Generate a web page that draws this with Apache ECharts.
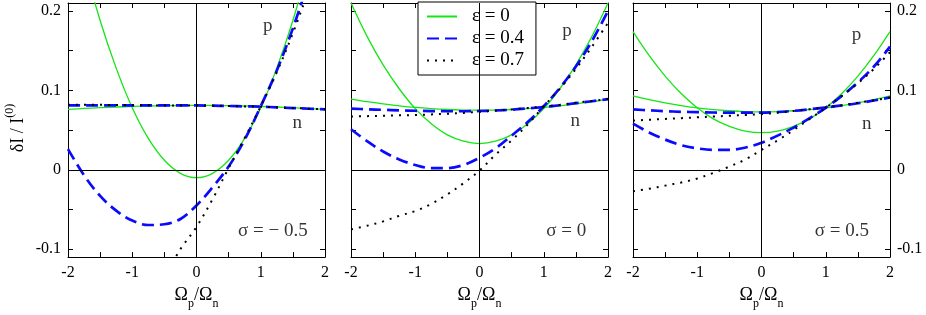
<!DOCTYPE html>
<html>
<head>
<meta charset="utf-8">
<script src="https://cdn.jsdelivr.net/npm/echarts@6/dist/echarts.min.js"></script>
<style>
html,body{margin:0;padding:0;background:#fff;}
#chart{width:926px;height:315px;}
</style>
</head>
<body>
<div id="chart"></div>
<script>
// Shared x samples (Ω_p/Ω_n)
const xs = [-2,-1.75,-1.5,-1.25,-1,-0.75,-0.5,-0.25,0,0.25,0.5,0.75,1,1.25,1.5,1.75,2];

// Legend / series names
const epsNames = ['ε = 0','ε = 0.4','ε = 0.7'];

// Panel 1: σ = −0.5
const s1_e0_p = [0.342,0.26,0.188,0.128,0.078,0.0395,0.012,-0.0045,-0.01,-0.0045,0.012,0.0395,0.078,0.128,0.188,0.26,0.342];
const s1_e0_n = [0.076,0.0772,0.0782,0.079,0.0797,0.0803,0.0807,0.0809,0.081,0.0809,0.0807,0.0803,0.0797,0.079,0.0782,0.0772,0.076];
const s1_e4_p = [0.026,-0.007,-0.033,-0.0515,-0.064,-0.0696,-0.0686,-0.062,-0.045,-0.022,0.004,0.038,0.08,0.125,0.178,0.24,0.31];
const s1_e4_n = [0.081,0.081,0.081,0.081,0.081,0.081,0.081,0.081,0.081,0.0807,0.0803,0.0798,0.0795,0.0785,0.0777,0.0768,0.076];
const s1_e7_p = [null,null,null,null,null,null,-0.135,-0.1,-0.072,-0.037,0.002,0.04,0.08,0.123,0.172,0.228,0.29];
const s1_e7_n = [0.082,0.082,0.0818,0.0816,0.0814,0.0812,0.081,0.081,0.081,0.0807,0.0803,0.0798,0.0793,0.0786,0.0778,0.0769,0.076];

// Panel 2: σ = 0
const s2_e0_p = [0.21,0.168,0.132,0.102,0.077,0.058,0.044,0.036,0.033,0.036,0.044,0.058,0.077,0.102,0.132,0.168,0.21];
const s2_e0_n = [0.089,0.0857,0.0829,0.0805,0.0785,0.077,0.0759,0.0752,0.075,0.0752,0.0759,0.077,0.0785,0.0805,0.0829,0.0857,0.089];
const s2_e4_p = [0.051,0.036,0.023,0.013,0.006,0.002,0.002,0.006,0.015,0.027,0.043,0.06,0.08,0.103,0.13,0.162,0.2];
const s2_e4_n = [0.077,0.0762,0.0755,0.0748,0.0743,0.0739,0.0737,0.0737,0.074,0.0746,0.0756,0.0772,0.079,0.0812,0.0838,0.0863,0.089];
const s2_e7_p = [-0.075,-0.0705,-0.065,-0.058,-0.052,-0.043,-0.031,-0.017,-0.001,0.019,0.037,0.057,0.08,0.102,0.127,0.155,0.185];
const s2_e7_n = [0.067,0.0675,0.068,0.0685,0.069,0.0697,0.0705,0.0716,0.073,0.0745,0.076,0.0778,0.0797,0.0818,0.0843,0.0867,0.089];

// Panel 3: σ = 0.5
const s3_e0_p = [0.174,0.144,0.118,0.096,0.078,0.064,0.0547,0.0487,0.0467,0.0487,0.0547,0.064,0.078,0.096,0.118,0.144,0.174];
const s3_e0_n = [0.093,0.0883,0.0843,0.0808,0.078,0.0758,0.0743,0.0733,0.073,0.0733,0.0743,0.0758,0.078,0.0808,0.0843,0.0883,0.093];
const s3_e4_p = [0.058,0.047,0.038,0.031,0.027,0.025,0.025,0.028,0.034,0.043,0.053,0.065,0.078,0.093,0.11,0.13,0.155];
const s3_e4_n = [0.076,0.0748,0.0738,0.073,0.0725,0.0721,0.0719,0.0719,0.072,0.0727,0.0742,0.0762,0.0785,0.081,0.0838,0.0872,0.091];
const s3_e7_p = [-0.027,-0.024,-0.02,-0.016,-0.011,-0.004,0.004,0.013,0.025,0.037,0.05,0.064,0.078,0.093,0.109,0.127,0.148];
const s3_e7_n = [0.062,0.063,0.064,0.065,0.066,0.067,0.068,0.069,0.07,0.0718,0.074,0.0763,0.0787,0.0813,0.0843,0.0875,0.091];

// Tick values
const xTickLabels = [-2,-1,0,1,2];
const yTicks = [-0.1,-0.05,0,0.05,0.1,0.15,0.2];
const yTickLabels = [-0.1,0,0.1,0.2];

// In-plot annotations (data coordinates) per panel
const annText = [
  ['p','n','σ = − 0.5'],
  ['p','n','σ = 0'],
  ['p','n','σ = 0.5']
];
const annX = [[1.11,1.57,1.19],[1.36,1.49,1.35],[1.48,1.64,1.25]];
const annY = [[0.181,0.059,-0.0775],[0.175,0.062,-0.0775],[0.17,0.058,-0.0775]];

const panels = [
  [s1_e0_p,s1_e0_n,s1_e4_p,s1_e4_n,s1_e7_p,s1_e7_n],
  [s2_e0_p,s2_e0_n,s2_e4_p,s2_e4_n,s2_e7_p,s2_e7_n],
  [s3_e0_p,s3_e0_n,s3_e4_p,s3_e4_n,s3_e7_p,s3_e7_n]
];

const FONT = 'Liberation Serif';
const styles = [
  {color:'#14e614', width:1.3, type:'solid'},
  {color:'#0a0aff', width:2.7, type:[12,6]},
  {color:'#000000', width:2, type:[2,6]}
];

const gridLefts = [68, 351, 633];
const grids = gridLefts.map(l => ({left:l, top:3, width:257, height:256, containLabel:false}));

function pts(arr){
  const out = [];
  arr.forEach((v,i)=>{ if (v !== null) out.push([xs[i], v]); });
  return out;
}

const xAxes = [], yAxes = [], series = [];
for (let g = 0; g < 3; g++) {
  const commonX = {
    type:'value', gridIndex:g, min:-2, max:2, interval:0.5,
    axisLine:{onZero:false, lineStyle:{color:'#000', width:1}},
    axisTick:{inside:true, length:5, lineStyle:{color:'#000'}},
    splitLine:{show:false}
  };
  xAxes.push(Object.assign({}, commonX, {
    position:'bottom',
    axisLabel:{
      customValues: xTickLabels,
      formatter: v => String(v),
      fontFamily:FONT, fontSize:16, color:'#000', margin:8
    },
    name:'{a|Ω}{s|p}{a|/Ω}{s|n}',
    nameLocation:'middle', nameGap:22,
    nameTextStyle:{
      fontFamily:FONT, fontSize:18, color:'#000',
      rich:{
        a:{fontFamily:FONT, fontSize:18, color:'#000'},
        s:{fontFamily:FONT, fontSize:12, color:'#000', padding:[18,0,0,0]}
      }
    }
  }));
  xAxes.push(Object.assign({}, commonX, {position:'top', axisLabel:{show:false}}));

  const commonY = {
    type:'value', gridIndex:g, min:-0.11, max:0.21,
    axisLine:{onZero:false, lineStyle:{color:'#000', width:1}},
    axisTick:{inside:true, length:5, customValues:yTicks, lineStyle:{color:'#000'}},
    splitLine:{show:false}
  };
  const yLabel = {
    customValues: yTickLabels,
    formatter: v => String(+(+v).toFixed(2)),
    fontFamily:FONT, fontSize:16, color:'#000', margin:7
  };
  yAxes.push(Object.assign({}, commonY, {position:'left',
    axisLabel: g === 0 ? yLabel : {show:false}}));
  yAxes.push(Object.assign({}, commonY, {position:'right',
    axisLabel: g === 2 ? yLabel : {show:false}}));

  const arrs = panels[g];
  for (let k = 0; k < 6; k++) {
    const e = Math.floor(k/2);
    const st = styles[e];
    const s = {
      type:'line', name:epsNames[e],
      xAxisIndex:2*g, yAxisIndex:2*g,
      data: pts(arrs[k]),
      smooth:0.35, symbol:'none', clip:true,
      lineStyle:{color:st.color, width:st.width, type:st.type},
      itemStyle:{color:st.color},
      z: 3 + e,
      silent:true
    };
    if (k === 0) {
      s.markLine = {
        silent:true, symbol:'none', animation:false,
        label:{show:false},
        lineStyle:{color:'#000', width:1, type:'solid'},
        data:[{xAxis:0},{yAxis:0}]
      };
    }
    series.push(s);
  }
  series.push({
    type:'scatter', name:'ann'+g,
    xAxisIndex:2*g, yAxisIndex:2*g,
    symbolSize:1, itemStyle:{color:'rgba(0,0,0,0)'},
    silent:true, z:10,
    data: annText[g].map((t,i)=>({name:t, value:[annX[g][i], annY[g][i]]})),
    label:{show:true, position:'inside', formatter:'{b}',
      fontFamily:FONT, fontSize:19, color:'#000'}
  });
}

const chart = echarts.init(document.getElementById('chart'), null, {renderer:'canvas'});
chart.setOption({
  animation:false,
  backgroundColor:'#fff',
  grid: grids,
  xAxis: xAxes,
  yAxis: yAxes,
  legend:{
    data: epsNames,
    orient:'vertical',
    left:418, top:2,
    itemWidth:30, itemHeight:14, itemGap:3,
    padding:[5,12,5,8],
    borderColor:'#000', borderWidth:1,
    backgroundColor:'#fff',
    selectedMode:false,
    itemStyle:{opacity:0},
    textStyle:{fontFamily:FONT, fontSize:19, color:'#000', lineHeight:19, padding:[0,0,0,10]}
  },
  graphic:[{
    type:'text', x:18, y:128, rotation:Math.PI/2,
    style:{
      text:'{m|δI / I}{s|(0)}',
      align:'center', verticalAlign:'middle',
      rich:{
        m:{fontFamily:FONT, fontSize:18, fill:'#000'},
        s:{fontFamily:FONT, fontSize:12, fill:'#000', padding:[0,0,16,0]}
      }
    }
  }],
  series: series
});
</script>
</body>
</html>
